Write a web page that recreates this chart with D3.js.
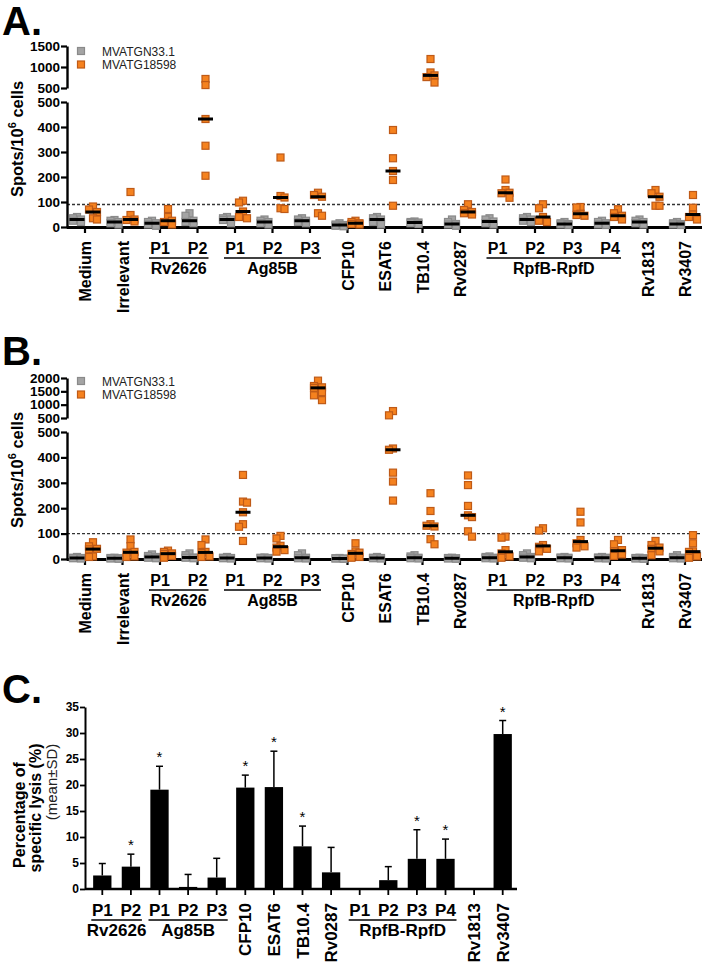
<!DOCTYPE html>
<html><head><meta charset="utf-8">
<script src="https://cdn.jsdelivr.net/npm/d3@7"></script>
<style>
body{margin:0;background:#fff}
svg{display:block}
text{font-family:"Liberation Sans",Arial,Helvetica,sans-serif}
</style>
</head><body>
<svg id="chart" width="702" height="962"></svg>
<script>
// ---------- DATA ----------
const categoriesAB = ["Medium","Irrelevant","P1","P2","P1","P2","P3","CFP10","ESAT6","TB10.4","Rv0287","P1","P2","P3","P4","Rv1813","Rv3407"];
const groupsAB = [["Rv2626",2,3],["Ag85B",4,6],["RpfB-RpfD",11,14]];
const seriesNames = ["MVATGN33.1","MVATG18598"];

const grayA = [[35,30,25,40,20],[25,20,15,28,10],[15,20,10,25,5],[55,45,25,20,15],[35,30,28,15,40],[25,20,15,30,10],[30,25,20,15,35],[10,5,15,8,3],[40,35,30,20,10],[20,18,15,12,22],[12,30,10,5,20],[35,30,22,15,10],[30,25,35,20,40],[15,10,20,12,8],[25,15,10,20,8],[30,25,20,15,10],[20,15,10,12,8]];
const orangeA = [[82,70,60,35,30],[140,48,30,22,28],[72,40,25,20,10],[715,570,432,325,205],[105,98,62,40,35],[278,124,118,75,72],[137,128,121,55,45],[25,20,15,10,12],[388,275,224,188,85],[1190,870,800,760,630],[91,68,60,55,50],[190,148,137,135,117],[91,75,40,25,20],[80,78,53,48,45],[71,55,45,40,30],[148,135,121,85,85],[128,77,50,40,30]];
const thresholdA = 90;
const ticksALower = [0,100,200,300,400,500];
const ticksAUpper = [500,1000,1500];

const grayB = [[5,3,8,2,4],[3,5,2,4,1],[18,12,8,5,3],[22,15,6,5,3],[8,5,3,2,4],[5,3,2,4,6],[22,15,5,3,2],[3,2,1,4,2],[8,5,3,2,4],[15,10,5,3,2],[5,3,2,4,1],[10,8,5,3,2],[22,15,8,5,3],[8,5,3,2,6],[8,5,3,2,6],[3,2,5,1,4],[15,8,5,3,2]];
const orangeB = [[66,50,40,38,10,8],[77,51,28,25,10,8],[33,28,22,20,12,5],[77,55,28,24,10,8],[331,226,222,184,137,127,71],[91,81,52,45,35,29],[1900,1700,1650,1630,1470,1350,1170],[62,30,25,20,8,5],[760,600,435,430,340,305,230],[259,189,137,131,128,78,58],[329,291,209,172,165,109,88],[88,84,35,22,10,5],[121,112,55,48,40,30],[186,144,75,62,50,45],[75,58,35,30,18,12],[71,55,45,40,30,15],[94,62,30,28,10,5]];
const thresholdB = 100;
const ticksBLower = [0,100,200,300,400,500];
const ticksBUpper = [500,1000,1500,2000];

const categoriesC = ["P1","P2","P1","P2","P3","CFP10","ESAT6","TB10.4","Rv0287","P1","P2","P3","P4","Rv1813","Rv3407"];
const groupsC = [["Rv2626",0,1],["Ag85B",2,4],["RpfB-RpfD",9,12]];
const lysisMean = [2.6,4.3,19.1,0.4,2.2,19.5,19.6,8.2,3.2,0,1.7,5.8,5.8,0,29.8];
const lysisSD   = [2.3,2.4,4.5,2.4,3.7,2.4,6.9,3.9,4.8,0,2.6,5.6,3.8,0,2.6];
const lysisSig  = [0,1,1,0,0,1,1,1,0,0,0,1,1,0,1];
const ticksC = [0,5,10,15,20,25,30,35];

// ---------- DRAW ----------
const svg = d3.select("#chart");
const ORANGE_FILL = "#f5821f", ORANGE_STROKE = "#bf5a17";
const GRAY_FILL = "#a4a4a4", GRAY_STROKE = "#8a8a8a";
const isP = s => /^P\d$/.test(s);
const fmt = d3.format("d");

function panelLetter(txt, x, y){
  svg.append("text").attr("x",x).attr("y",y).attr("font-size",40).attr("font-weight","bold").text(txt);
}

function xLabels(g, cats, groups, center, axisY, fs){
  cats.forEach((c,i)=>{
    const cx = center(i);
    if(isP(c)){
      g.append("text").attr("x",cx).attr("y",axisY+27).attr("text-anchor","middle")
        .attr("font-size",fs).attr("font-weight","bold").text(c);
    } else {
      g.append("text").attr("transform",`translate(${cx+6},${axisY+14}) rotate(-90)`)
        .attr("text-anchor","end").attr("font-size",fs).attr("font-weight","bold").text(c);
    }
  });
  groups.forEach(([name,a,b])=>{
    const x1 = center(a)-11, x2 = center(b)+11;
    g.append("line").attr("x1",x1).attr("x2",x2).attr("y1",axisY+31).attr("y2",axisY+31)
      .attr("stroke","#000").attr("stroke-width",1.6);
    g.append("text").attr("x",(center(a)+center(b))/2).attr("y",axisY+47).attr("text-anchor","middle")
      .attr("font-size",fs).attr("font-weight","bold").text(name);
  });
}

function swarm(values, cx, y, size){
  const pts = values.map(v=>({v, y:y(v)})).sort((a,b)=>a.y-b.y);
  const placed = [];
  const offs = [0,-4,4];
  pts.forEach(p=>{
    for(const o of offs){
      const x = cx+o;
      if(!placed.some(q=>Math.abs(q.x-x)<size && Math.abs(q.y-p.y)<size)){
        p.x = x; placed.push(p); return;
      }
    }
    p.x = cx + (placed.length%2? -4: 4); placed.push(p);
  });
  return placed;
}

function scatterPanel(cfg){
  const g = svg.append("g");
  const x = d3.scaleBand().domain(d3.range(cfg.cats.length)).range([66.25,703.75]);
  const center = i => x(i)+x.bandwidth()/2;
  const yLo = d3.scaleLinear().domain([0,500]).range(cfg.loRange);
  const yHi = d3.scaleLinear().domain(cfg.hiDomain).range(cfg.hiRange);
  const y = v => v<=500 ? yLo(v) : yHi(v);
  const axisX = 67;

  g.append("line").attr("x1",axisX).attr("x2",702).attr("y1",yLo(cfg.thr)).attr("y2",yLo(cfg.thr))
    .attr("stroke","#333").attr("stroke-width",1.4).attr("stroke-dasharray","3,2");

  const yaxLo = g.append("g").attr("transform",`translate(${axisX},0)`)
    .call(d3.axisLeft(yLo).tickValues(cfg.ticksLo).tickFormat(fmt).tickSize(6).tickSizeOuter(0));
  const yaxHi = g.append("g").attr("transform",`translate(${axisX},0)`)
    .call(d3.axisLeft(yHi).tickValues(cfg.ticksHi).tickFormat(fmt).tickSize(6).tickSizeOuter(0));
  [yaxLo,yaxHi].forEach(a=>{
    a.select(".domain").attr("stroke-width",2.4);
    a.selectAll(".tick line").attr("stroke-width",2.2);
    a.selectAll(".tick text").attr("font-size",13.5).attr("font-weight","bold")
      .attr("font-family","Liberation Sans,Arial,sans-serif").attr("fill","#000").attr("x",-7);
  });

  const xax = g.append("g").attr("transform",`translate(0,${cfg.loRange[0]})`)
    .call(d3.axisBottom(x).tickSize(6).tickSizeOuter(0).tickFormat(""));
  xax.select(".domain").attr("stroke-width",3);
  xax.selectAll(".tick line").attr("stroke-width",2.2);

  const sq = 7;
  [[cfg.gray,-8,GRAY_FILL,GRAY_STROKE],[cfg.orange,8,ORANGE_FILL,ORANGE_STROKE]].forEach(([data,off,fill,stroke])=>{
    data.forEach((vals,i)=>{
      const cx = center(i)+off;
      const pts = swarm(vals,cx,y,6);
      g.selectAll(null).data(pts).enter().append("rect")
        .attr("x",d=>d.x-sq/2).attr("y",d=>d.y-sq/2).attr("width",sq).attr("height",sq)
        .attr("fill",fill).attr("stroke",stroke).attr("stroke-width",1.2);
      const med = d3.median(vals);
      g.append("line").attr("x1",cx-7.5).attr("x2",cx+7.5).attr("y1",y(med)).attr("y2",y(med))
        .attr("stroke","#000").attr("stroke-width",3);
    });
  });

  const lg = g.append("g");
  seriesNames.forEach((n,k)=>{
    const ly = cfg.legendY + k*13.5;
    lg.append("rect").attr("x",81-sq/2).attr("y",ly-sq/2).attr("width",sq).attr("height",sq)
      .attr("fill",k?ORANGE_FILL:GRAY_FILL).attr("stroke",k?ORANGE_STROKE:GRAY_STROKE).attr("stroke-width",1.2);
    lg.append("text").attr("x",102).attr("y",ly+4.5).attr("font-size",12).attr("fill","#222").text(n);
  });

  const yl = g.append("text").attr("transform",`translate(23,${cfg.ylabelY}) rotate(-90)`)
    .attr("text-anchor","middle").attr("font-size",16.5).attr("font-weight","bold");
  yl.append("tspan").text("Spots/10");
  yl.append("tspan").attr("font-size",11).attr("dy",-7).text("6");
  yl.append("tspan").attr("dy",7).text(" cells");

  xLabels(g, cfg.cats, groupsAB, center, cfg.loRange[0], 16);
}

panelLetter("A.",2,35);
scatterPanel({cats:categoriesAB, gray:grayA, orange:orangeA, thr:thresholdA,
  loRange:[227,102], hiDomain:[500,1500], hiRange:[88,46], ticksLo:ticksALower, ticksHi:ticksAUpper,
  legendY:51, ylabelY:139});

panelLetter("B.",2,365);
scatterPanel({cats:categoriesAB, gray:grayB, orange:orangeB, thr:thresholdB,
  loRange:[559,432], hiDomain:[500,2000], hiRange:[418,378], ticksLo:ticksBLower, ticksHi:ticksBUpper,
  legendY:381, ylabelY:470});

panelLetter("C.",2,703);
(function(){
  const g = svg.append("g");
  const axisX = 85, axisY = 889;
  const x = d3.scaleBand().domain(d3.range(categoriesC.length)).range([88,517]).paddingInner(0.36).paddingOuter(0.18);
  const center = i => x(i)+x.bandwidth()/2;
  const y = d3.scaleLinear().domain([0,35]).range([axisY,707]);

  g.selectAll(null).data(lysisMean).enter().append("rect")
    .attr("x",(d,i)=>x(i)).attr("width",x.bandwidth())
    .attr("y",d=>y(d)).attr("height",d=>axisY-y(d)).attr("fill","#000");
  lysisMean.forEach((m,i)=>{
    if(lysisSD[i]<=0) return;
    const cx = center(i), top = y(m+lysisSD[i]);
    g.append("line").attr("x1",cx).attr("x2",cx).attr("y1",y(m)).attr("y2",top).attr("stroke","#000").attr("stroke-width",1.5);
    g.append("line").attr("x1",cx-3.5).attr("x2",cx+3.5).attr("y1",top).attr("y2",top).attr("stroke","#000").attr("stroke-width",1.5);
    if(lysisSig[i]) g.append("text").attr("x",cx).attr("y",top-4).attr("text-anchor","middle")
      .attr("font-size",15).text("*");
  });

  const yax = g.append("g").attr("transform",`translate(${axisX},0)`)
    .call(d3.axisLeft(y).tickValues(ticksC).tickSize(5).tickSizeOuter(0));
  yax.select(".domain").attr("stroke-width",2);
  yax.selectAll(".tick line").attr("stroke-width",1.8);
  yax.selectAll(".tick text").attr("font-size",12).attr("font-weight","bold")
    .attr("font-family","Liberation Sans,Arial,sans-serif").attr("fill","#000").attr("x",-6);

  const xax = g.append("g").attr("transform",`translate(0,${axisY})`)
    .call(d3.axisBottom(x).tickSize(6).tickSizeOuter(0).tickFormat(""));
  xax.select(".domain").attr("d",`M${axisX},0H517`).attr("stroke-width",2.4);
  xax.selectAll(".tick line").attr("stroke-width",1.8);

  g.append("text").attr("transform","translate(25,815) rotate(-90)").attr("text-anchor","middle")
    .attr("font-size",16).attr("font-weight","bold").text("Percentage of");
  g.append("text").attr("transform","translate(41,808) rotate(-90)").attr("text-anchor","middle")
    .attr("font-size",16).attr("font-weight","bold").text("specific lysis (%)");
  g.append("text").attr("transform","translate(57,782) rotate(-90)").attr("text-anchor","middle")
    .attr("font-size",15).attr("fill","#222").text("(mean\u00B1SD)");

  xLabels(g, categoriesC, groupsC, center, axisY, 17);
})();
</script>
</body></html>
